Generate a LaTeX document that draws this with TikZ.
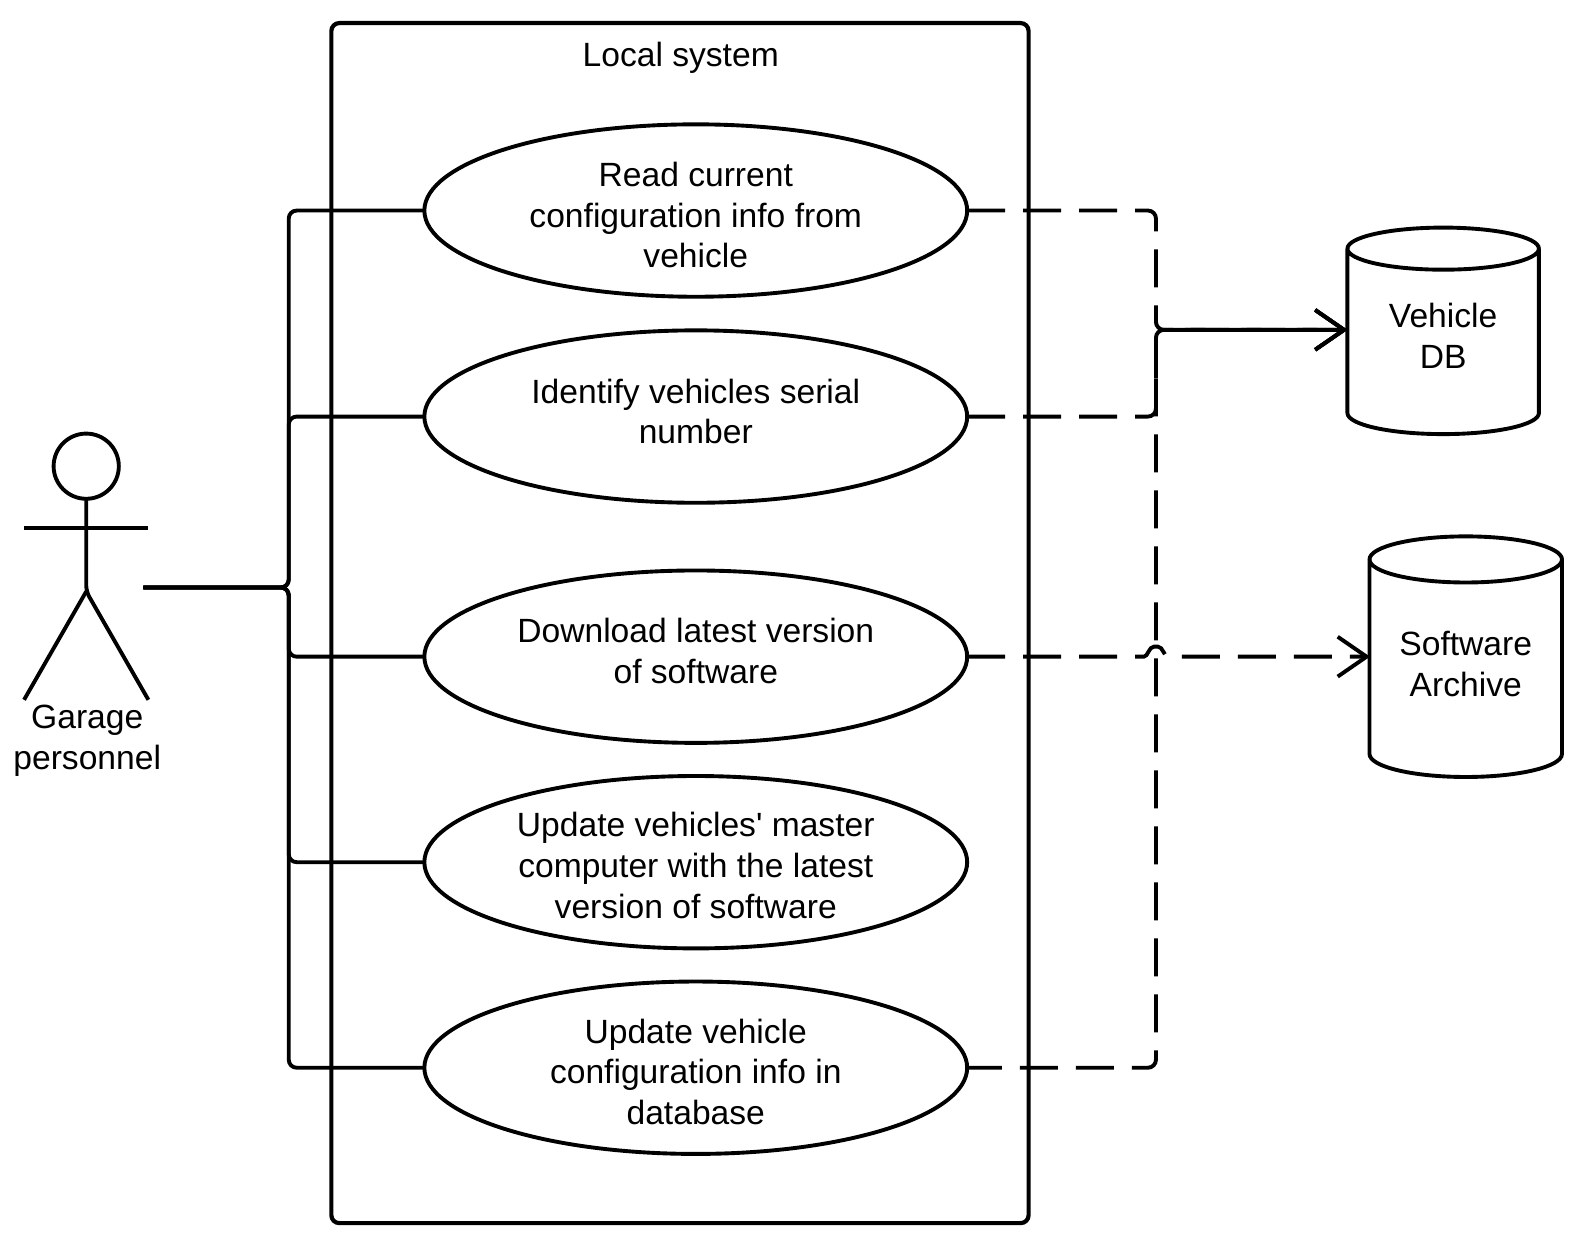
\documentclass[tikz,border=0pt]{standalone}
\usepackage{fontspec}
\newfontfamily\diagfont{Liberation Sans}
\usetikzlibrary{shapes.geometric,arrows.meta,calc}
\tikzset{
  x=0.50128bp,y=-0.50128bp,
  every node/.style={font=\diagfont\fontsize{16.87}{20.45}\selectfont,text=black,align=center,inner sep=0pt,outer sep=0pt},
  ln/.style={line width=1.95pt,draw=black},
  usecase/.style={ellipse,ln,minimum width=271.4bp,minimum height=86.2bp},
  solidlink/.style={ln,rounded corners=4pt},
  dashlink/.style={ln,rounded corners=4pt,dash pattern=on 19bp off 9bp},
  barb/.style={-{Straight Barb[length=14.5pt,width=20pt,line width=1.95pt]}},
  store/.style={minimum width=95.7bp,minimum height=98bp}
}
\begin{document}
\begin{tikzpicture}
\useasboundingbox (0,0) rectangle (1568,1233);
% system boundary
\draw[line width=2.1pt,rounded corners=4pt] (330.5,23) rectangle (1026,1220);
\node (sys) at (679,57.5) {Local system};
% use cases
\node[usecase] (e1) at (694,210) {};
\node[usecase] (e2) at (694,415.5) {};
\node[usecase] (e3) at (694,655) {};
\node[usecase] (e4) at (694,860) {};
\node[usecase] (e5) at (694,1065) {};
\node (t1) at (694,214.5) {Read current\\configuration info from\\vehicle};
\node (t2) at (694,410.5) {Identify vehicles serial\\number};
\node (t3) at (694,649.5) {Download latest version\\of software};
\node (t4) at (694,863.5) {Update vehicles' master\\computer with the latest\\version of software};
\node (t5) at (694,1069) {Update vehicle\\configuration info in\\database};
% actor
\node[circle,ln,minimum size=32.6bp] (head) at (86,465) {};
\coordinate (hip) at (86,590);
\coordinate (armL) at (24,527);
\coordinate (armR) at (148,527);
\coordinate (footL) at (24,698);
\coordinate (footR) at (148,698);
\draw[ln,rounded corners=3pt] (head.south) -- (hip) -- (footR);
\draw[ln] (armL) -- (armR);
\draw[ln] (footL) -- (hip);
\node (actor) at (87,739) {Garage\\personnel};
\coordinate (act) at (143,586);
\coordinate (bus) at (288,586);
\foreach \e in {e1,e2,e3,e4,e5}{
  \draw[solidlink] (act) -- (bus) |- (\e.west);
}
% stores
\node[store] (vdb) at (1439.5,335) {Vehicle\\DB};
\node[store] (arch) at (1462,662) {Software\\Archive};
\draw[ln,line join=round] (1344,248) arc[start angle=180,end angle=0,x radius=95.5,y radius=21] -- (1535,412) arc[start angle=0,end angle=180,x radius=95.5,y radius=21] -- cycle;
\draw[ln] (1344,248) arc[start angle=180,end angle=360,x radius=95.5,y radius=21];
\draw[ln,line join=round] (1366,558) arc[start angle=180,end angle=0,x radius=96,y radius=23] -- (1558,752) arc[start angle=0,end angle=180,x radius=96,y radius=23] -- cycle;
\draw[ln] (1366,558) arc[start angle=180,end angle=360,x radius=96,y radius=23];
% dashed links
\coordinate (trunk) at (1153,329);
\coordinate (hop) at (1153,655);
\foreach \e in {e1,e2}{
  \draw[dashlink,barb] (\e.east) -| (trunk) -- (trunk -| vdb.west);
}
\draw[dashlink,dash phase=1.7bp,barb] (e5.east) -| (trunk) -- (trunk -| vdb.west);
\draw[dashlink,barb,rounded corners=0pt] (e3.east) -- ($(hop)+(-12,0)$)
  .. controls ($(hop)+(-8,0)$) and ($(hop)+(-7,-10)$) .. ($(hop)+(-2,-10)$)
  -- ($(hop)+(2,-10)$)
  .. controls ($(hop)+(7,-10)$) and ($(hop)+(8,0)$) .. ($(hop)+(12,0)$)
  -- (hop -| arch.west);
\end{tikzpicture}
\end{document}
